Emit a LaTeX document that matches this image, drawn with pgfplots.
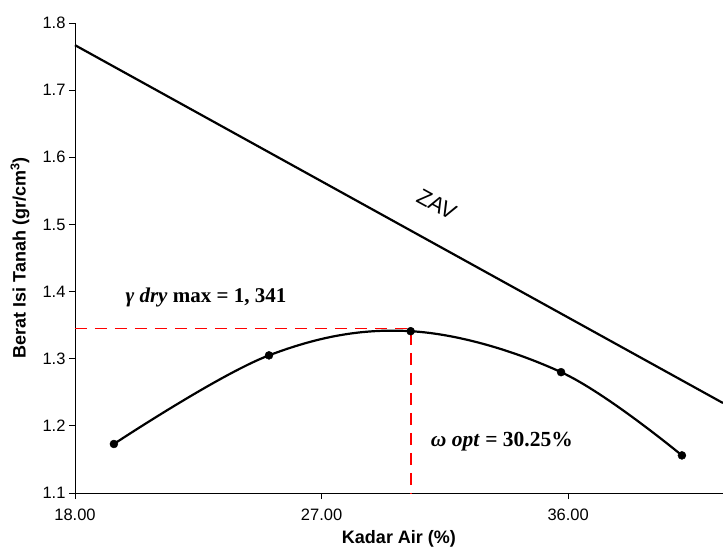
\documentclass[border=0pt]{standalone}
\usepackage{fontspec}
\setmainfont{Liberation Sans}
\newfontfamily\cam{Liberation Serif}
\usepackage{pgfplots}
\pgfplotsset{compat=1.18}

\begin{document}
\begin{tikzpicture}
\begin{axis}[
    scale only axis, width=648pt, height=470pt,
    xmin=18, xmax=41.65, ymin=1.1, ymax=1.8,
    axis lines=left, axis line style={-, line width=0.9pt},
    xtick={18,27,36}, ytick={1.1,1.2,1.3,1.4,1.5,1.6,1.7,1.8},
    tick align=outside, major tick length=6pt,
    tick style={black, line width=0.9pt},
    ticklabel style={font=\fontsize{16.5}{18}\selectfont},
    xticklabel style={yshift=-6pt, /pgf/number format/.cd, fixed, fixed zerofill, precision=2, assume math mode=true},
    yticklabel style={/pgf/number format/.cd, fixed, fixed zerofill, precision=1, assume math mode=true},
    label style={font=\fontsize{18}{20}\selectfont\bfseries},
    xlabel={Kadar Air (\%)},
    ylabel={Berat Isi Tanah (gr/cm\textsuperscript{3})},
    xlabel style={at={(axis description cs:0.5,-0.098)}, anchor=center},
    ylabel style={at={(axis description cs:-0.085,0.5)}, anchor=center},
    clip=false,
]
% zero air voids line
\addplot[black, line width=2.2pt] coordinates {(18,1.767) (41.65,1.234)};
% compaction curve
\addplot[black, line width=2.2pt, smooth, tension=0.6] coordinates {
    (19.42,1.173) (25.08,1.305) (30.25,1.341) (35.74,1.280) (40.15,1.156)};
\addplot[red, line width=1.8pt, dash pattern=on 12pt off 8pt] coordinates {
    (18,1.345) (30.25,1.345) (30.25,1.1)};
\addplot[only marks, mark=*, mark size=4pt, black] coordinates {
    (19.42,1.173) (25.08,1.305) (30.25,1.341) (35.74,1.280) (40.15,1.156)};
\node[rotate=-28.8, font=\fontsize{22}{24}\selectfont] at (axis cs:31.2,1.53) {ZAV};
\node[font=\fontsize{21}{24}\selectfont\cam\bfseries] at (axis cs:22.78,1.391)
    {\textit{γ dry} max = 1, 341};
\node[font=\fontsize{21.5}{24}\selectfont\cam\bfseries] at (axis cs:33.58,1.176)
    {\textit{ω opt} = 30.25\%};
\end{axis}
\pgfresetboundingbox
\path (-75pt,-56pt) rectangle (648pt,493pt);
\end{tikzpicture}
\end{document}
